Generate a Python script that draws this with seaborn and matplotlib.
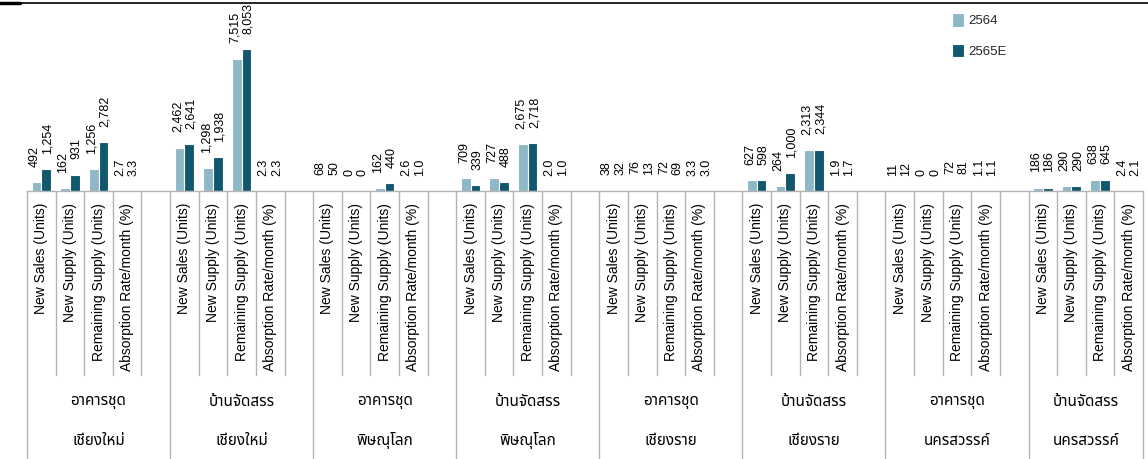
import matplotlib
matplotlib.use("Agg")
import matplotlib.pyplot as plt
from matplotlib import font_manager
from matplotlib.ft2font import FT2Font
from matplotlib.lines import Line2D
import matplotlib.transforms as mtransforms
import numpy as np
import pandas as pd
import seaborn as sns

# ---------------------------------------------------------------- data
provinces = ["เชียงใหม่", "เชียงใหม่", "พิษณุโลก", "พิษณุโลก",
             "เชียงราย", "เชียงราย", "นครสวรรค์", "นครสวรรค์"]
housing_types = ["อาคารชุด", "บ้านจัดสรร", "อาคารชุด", "บ้านจัดสรร",
                 "อาคารชุด", "บ้านจัดสรร", "อาคารชุด", "บ้านจัดสรร"]
metrics = ["New Sales (Units)", "New Supply (Units)",
           "Remaining Supply (Units)", "Absorption Rate/month (%)"]
years = ["2564", "2565E"]

# one row per group: New Sales, New Supply, Remaining Supply, Absorption Rate
values_2564 = [
    [492, 162, 1256, 2.7],
    [2462, 1298, 7515, 2.3],
    [68, 0, 162, 2.6],
    [709, 727, 2675, 2.0],
    [38, 76, 72, 3.3],
    [627, 264, 2313, 1.9],
    [11, 0, 72, 1.1],
    [186, 290, 638, 2.4],
]
values_2565e = [
    [1254, 931, 2782, 3.3],
    [2641, 1938, 8053, 2.3],
    [50, 0, 440, 1.0],
    [339, 488, 2718, 1.0],
    [32, 13, 69, 3.0],
    [598, 1000, 2344, 1.7],
    [12, 0, 81, 1.1],
    [186, 290, 645, 2.1],
]

colors = {"2564": "#84BDD0", "2565E": "#01607F"}
grid_grey = "#B3B3B3"

# ---------------------------------------------------------------- fonts
def find_thai_family():
    found = []
    for f in font_manager.fontManager.ttflist:
        try:
            if 0x0E2D in FT2Font(f.fname).get_charmap():
                found.append(f.name)
        except Exception:
            continue
    for pref in ["Noto Sans Thai", "Noto Sans Thai UI", "Noto Sans Thai Looped",
                 "Loma", "Garuda", "Waree", "Tlwg Typist", "Norasi"]:
        if pref in found:
            return pref
    return found[0] if found else "DejaVu Sans"

sns.set_style("white")
thai_family = find_thai_family()
plt.rcParams["font.family"] = ["Liberation Sans", thai_family, "DejaVu Sans"]

# ---------------------------------------------------------------- layout of category slots
# each group: four metric slots, followed by a blank spacer slot (except the last group)
n_groups = len(provinces)
slot_keys, slot_labels, slot_metric = [], [], []
rows = []
for g in range(n_groups):
    for m, metric in enumerate(metrics):
        key = f"g{g}_m{m}"
        slot_keys.append(key)
        slot_labels.append(metric)
        slot_metric.append(m)
        rows.append({"slot": key, "year": years[0], "value": values_2564[g][m]})
        rows.append({"slot": key, "year": years[1], "value": values_2565e[g][m]})
    if g < n_groups - 1:
        slot_keys.append(f"g{g}_gap")
        slot_labels.append("")
        slot_metric.append(None)

df = pd.DataFrame(rows)
n_slots = len(slot_keys)

# ---------------------------------------------------------------- figure
W, H = 1148, 459
fig = plt.figure(figsize=(W / 100, H / 100), dpi=100)
ax_left, ax_right, ax_top, ax_base = 27, 1143, 2, 191
ax = fig.add_axes([ax_left / W, 1 - ax_base / H,
                   (ax_right - ax_left) / W, (ax_base - ax_top) / H])

sns.barplot(data=df, x="slot", y="value", hue="year", order=slot_keys,
            hue_order=years, palette=colors, width=0.68,
            edgecolor="white", linewidth=0.8, ax=ax, legend=True)

ax.set_xlim(-0.5, n_slots - 0.5)
ax.set_ylim(0, 10720)
ax.set_xlabel("")
ax.set_ylabel("")
ax.set_yticks([])
ax.set_xticks(range(n_slots))
ax.set_xticklabels(slot_labels, rotation=90, fontsize=10, color="#000000")
ax.tick_params(axis="x", length=0, pad=8.5)
for side in ["left", "right", "top"]:
    ax.spines[side].set_visible(False)
ax.spines["bottom"].set_color(grid_grey)
ax.spines["bottom"].set_linewidth(1)

# value labels above every bar, nudged apart within each pair
for container in ax.containers:
    for patch in container:
        h = patch.get_height()
        if np.isnan(h):
            continue
        xc = patch.get_x() + patch.get_width() / 2
        slot = int(round(xc))
        m = slot_metric[slot]
        text = f"{h:.1f}" if m == 3 else f"{h:,.0f}"
        nudge = -1.3 if xc < slot else 1.3
        ax.annotate(text, xy=(xc, h), xytext=(nudge, 11), textcoords="offset points",
                    rotation=90, ha="center", va="bottom", fontsize=9,
                    color="#000000")

# slot separators and group boundaries below the axis
axis_px = ax_base - ax_top
sep_bottom = -(375 - ax_base) / axis_px
group_bottom = -(458 - ax_base) / axis_px
trans = mtransforms.blended_transform_factory(ax.transData, ax.transAxes)
group_starts = []
pos = 0
for g in range(n_groups):
    group_starts.append(pos)
    pos += 5 if g < n_groups - 1 else 4
for i in range(n_slots + 1):
    x = i - 0.5
    is_group_edge = (i in group_starts) or i == n_slots
    ax.plot([x, x], [0, group_bottom if is_group_edge else sep_bottom],
            transform=trans, color=grid_grey, lw=1, clip_on=False)

# group captions: housing type and province
for g in range(n_groups):
    start = group_starts[g]
    end = group_starts[g + 1] if g + 1 < n_groups else n_slots
    xc = (start + end - 1) / 2
    ax.text(xc, -(402 - ax_base) / axis_px, housing_types[g], transform=trans,
            ha="center", va="center", fontsize=11, color="#000000")
    ax.text(xc, -(441 - ax_base) / axis_px, provinces[g], transform=trans,
            ha="center", va="center", fontsize=11, color="#000000")

# legend at upper right
handles, labels = ax.get_legend_handles_labels()
ax.legend(handles, labels, loc="upper left",
          bbox_to_anchor=(952 / W, 1 - 13 / H), bbox_transform=fig.transFigure,
          frameon=False, fontsize=9.5, handlelength=0.9, handleheight=1.25,
          handletextpad=0.35, labelspacing=1.22, borderpad=0, borderaxespad=0)

# frame line along the top edge
fig.add_artist(Line2D([0, 20 / W], [1 - 3 / H, 1 - 3 / H],
                      transform=fig.transFigure, color="black", lw=2.5))
fig.add_artist(Line2D([0, 1], [1 - 2.5 / H, 1 - 2.5 / H],
                      transform=fig.transFigure, color="black", lw=1.2))

fig.savefig("out.png", dpi=100, facecolor="white")
